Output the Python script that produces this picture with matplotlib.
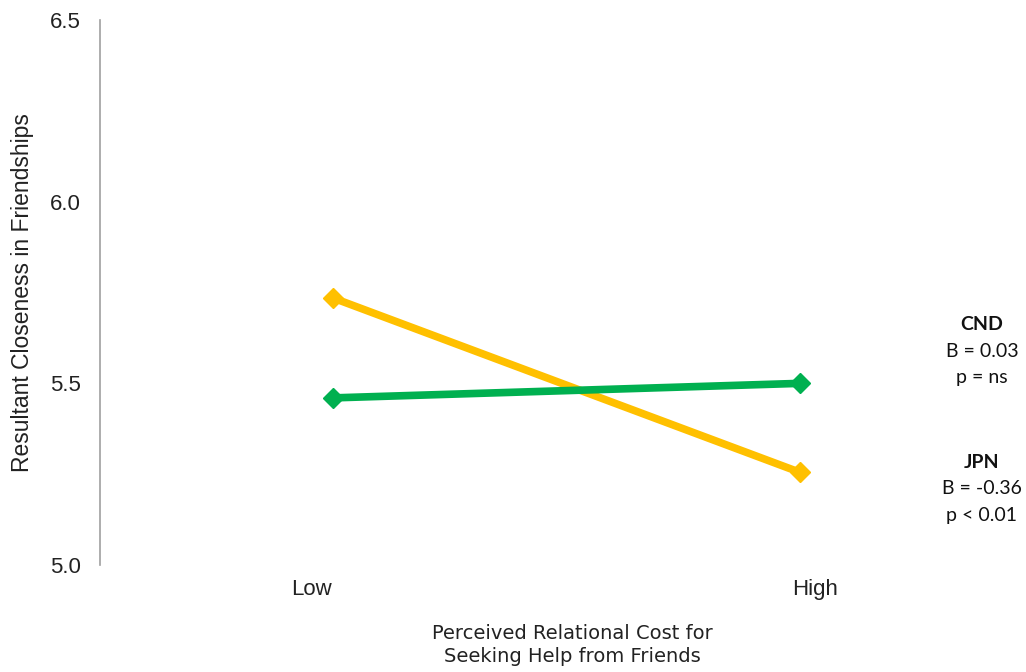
import matplotlib.pyplot as plt

# simple slopes: closeness by perceived relational cost
cost_levels = ['Low', 'High']
cnd_values = [5.46, 5.50]
jpn_values = [5.735, 5.255]

cnd_stats = ['CND', 'B = 0.03', 'p = ns']
jpn_stats = ['JPN', 'B = -0.36', 'p < 0.01']

green = '#00b050'
yellow = '#ffc000'

fig = plt.figure(figsize=(10.26, 6.72), dpi=100)
ax = fig.add_axes([0.0975, 0.1592, 0.9025, 0.811])

x = [0, 1]
ax.plot(x, cnd_values, color=green, lw=5.5, marker='D', ms=10, zorder=3)
ax.plot(x, jpn_values, color=yellow, lw=5.5, marker='D', ms=10, zorder=2)

ax.set_xlim(-0.499, 1.484)
ax.set_ylim(5.0, 6.5)
ax.set_yticks([5.0, 5.5, 6.0, 6.5])
ax.set_yticklabels(['5.0', '5.5', '6.0', '6.5'], fontsize=16,
                   family='Liberation Sans', color='#222222')
ax.set_xticks([-0.047, 1.032])
ax.set_xticklabels(cost_levels, fontsize=16, family='Liberation Sans',
                   color='#222222')
ax.tick_params(axis='both', length=0)
ax.tick_params(axis='y', pad=14)
ax.tick_params(axis='x', pad=10)

for side in ['top', 'right', 'bottom']:
    ax.spines[side].set_visible(False)
ax.spines['left'].set_color('#a0a0a0')
ax.spines['left'].set_linewidth(1.2)

ax.set_ylabel('Resultant Closeness in Friendships', fontsize=16.5,
              family='Liberation Sans', color='#222222')
ax.yaxis.set_label_coords(-0.071, 0.5)
fig.text(0.5575, 0.0405, 'Perceived Relational Cost for\nSeeking Help from Friends',
         ha='center', va='center', fontsize=14, family='DejaVu Sans',
         color='#222222', linespacing=1.3)

# slope annotations on the right
for stats, y0 in [(cnd_stats, 325), (jpn_stats, 462)]:
    for i, line in enumerate(stats):
        fig.text(982 / 1026, 1 - (y0 + i * 26.5) / 672, line, ha='center',
                 va='center', fontsize=14, family='Lato', color='#111111',
                 weight='bold' if i == 0 else 'normal')

fig.savefig('out.png', dpi=100)
